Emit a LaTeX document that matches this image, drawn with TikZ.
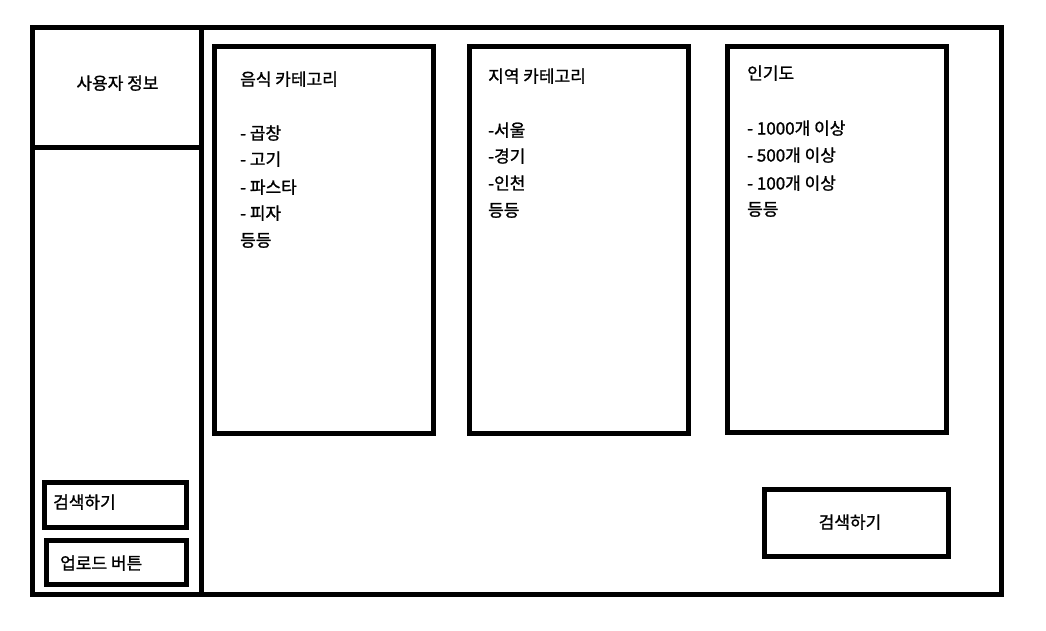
\documentclass[tikz,border=0pt]{standalone}
\usepackage{fontspec}
\setmainfont{Noto Sans CJK KR}[FakeBold=1.2]
\begin{document}
\begin{tikzpicture}[x=1pt,y=-1pt,
  frame/.style={draw=black,line width=5pt},
  lbl/.style={inner sep=0pt,anchor=base west,font=\fontsize{17pt}{20pt}\selectfont},
  clbl/.style={inner sep=0pt,anchor=base,font=\fontsize{17pt}{20pt}\selectfont}]
\useasboundingbox[fill=white] (0,0) rectangle (1046,630);
% outer frame and dividers
\draw[frame] (32.5,27.5) rectangle (1001.5,594.5);
\coordinate (dtop) at (201.5,27.5);
\coordinate (dbot) at (201.5,594.5);
\coordinate (hl) at (32.5,147.5);
\coordinate (hr) at (201.5,147.5);
\draw[frame] (dtop) -- (dbot);
\draw[frame] (hl) -- (hr);
% boxes
\draw[frame] (214.5,46.5) rectangle (433.5,433.5);
\draw[frame] (469.5,46.5) rectangle (688.5,433.5);
\draw[frame] (727.5,46.5) rectangle (946.5,432.5);
\draw[frame] (44.5,482.5) rectangle (186.5,527.5);
\draw[frame] (46.5,540.5) rectangle (186.5,584.5);
\draw[frame] (764.5,489.5) rectangle (948.5,556.5);
% texts
\node[clbl] (user) at (117.5,89.5) {사용자 정보};
\node[lbl] (food) at (240,85.5) {음식 카테고리};
\node[lbl] (f1) at (240,139.5) {- 곱창};
\node[lbl] (f2) at (240,165.5) {- 고기};
\node[lbl] (f3) at (240,193.5) {- 파스타};
\node[lbl] (f4) at (240,219.5) {- 피자};
\node[lbl] (f5) at (240,246.5) {등등};
\node[lbl] (reg) at (488,82.5) {지역 카테고리};
\node[lbl] (r1) at (488,136.5) {-서울};
\node[lbl] (r2) at (488,162.5) {-경기};
\node[lbl] (r3) at (488,189.5) {-인천};
\node[lbl] (r4) at (488,216.5) {등등};
\node[lbl] (pop) at (747,79.5) {인기도};
\node[lbl] (p1) at (747,134.5) {- 1000개 이상};
\node[lbl] (p2) at (747,161.5) {- 500개 이상};
\node[lbl] (p3) at (747,189.5) {- 100개 이상};
\node[lbl] (p4) at (747,215.5) {등등};
\node[lbl] (b1) at (53,508.5) {검색하기};
\node[lbl] (b2) at (60,569.5) {업로드 버튼};
\node[clbl] (b3) at (850,528.5) {검색하기};
\end{tikzpicture}
\end{document}
